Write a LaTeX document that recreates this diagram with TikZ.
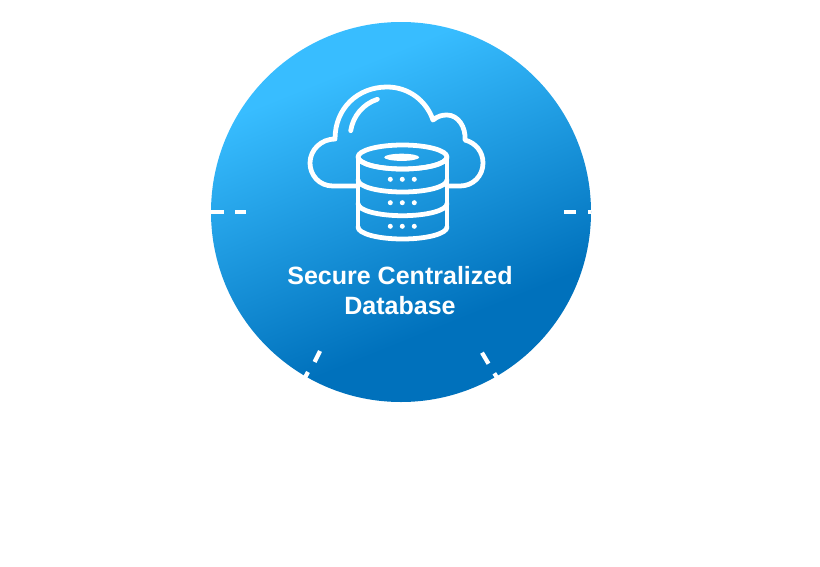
\documentclass[tikz,border=0pt]{standalone}
\usepackage{fontspec}
\setmainfont{Liberation Sans}
\definecolor{disclight}{HTML}{38BDFF}
\definecolor{discdark}{HTML}{0071BC}
\pgfdeclareverticalshading{discshade}{100bp}{color(0bp)=(discdark); color(34bp)=(discdark); color(70bp)=(disclight); color(100bp)=(disclight)}
\tikzset{
    iconline/.style={draw=white, line width=3.4pt, line join=round, line cap=round},
    tickline/.style={draw=white, line width=3pt},
    titletext/.style={text=white, font=\bfseries\fontsize{17.8}{22}\selectfont, align=center}
}
\begin{document}
\begin{tikzpicture}[x=0.025cm, y=-0.025cm]
            \useasboundingbox (0,0) rectangle (820,566);
            \shade [shading=discshade, shading angle=22] (401,212) circle [radius=190];
            \path [tickline] (211,212) -- (224,212);
            \path [tickline] (235,212) -- (246,212);
            \path [tickline] (564,212) -- (576,212);
            \path [tickline] (588,212) -- (591,212);
            \path [tickline] (320,351) -- (314.6,362);
            \path [tickline] (308,372) -- (305,377.5);
            \path [tickline] (482,352.7) -- (488.5,363.7);
            \path [tickline] (494.3,373.3) -- (497,377.5);
            \path [iconline] (357,186) -- (333,186) .. controls (319,186) and (310,175) .. (310,163) .. controls (310,150) and (321,139) .. (335,139) .. controls (335,108) and (358,87) .. (387,87) .. controls (408,87) and (426,100) .. (433,120) .. controls (438,116) and (442,115) .. (447,115) .. controls (458,115) and (466,127) .. (465,140) .. controls (476,143) and (483,152) .. (483,163) .. controls (483,176) and (473,186) .. (460,186) -- (449,186);
            \path [iconline] (377.3,99.3) .. controls (363,104) and (353,116) .. (350.7,130.7);
            \path [iconline] (358,157) arc [x radius=44.5, y radius=12, start angle=180, end angle=540];
            \path [iconline] (358,157) -- (358,227);
            \path [iconline] (447,157) -- (447,227);
            \foreach \y in {157,180,203.7,227} {
                \path [iconline] (358,\y) arc [x radius=44.5, y radius=-12, start angle=180, end angle=360];
            }
            \fill [white] (401.7,157.3) ellipse [x radius=17.5, y radius=3.6];
            \foreach \y in {179.3,202.7,226.3} {
                \foreach \x in {390.3,402.3,414.3} {
                    \fill [white] (\x,\y) circle [radius=2.5];
                }
            }
            \node [titletext] (title) at (400,290.5) {Secure Centralized\\[-0.5pt]Database};
        \end{tikzpicture}
\end{document}
